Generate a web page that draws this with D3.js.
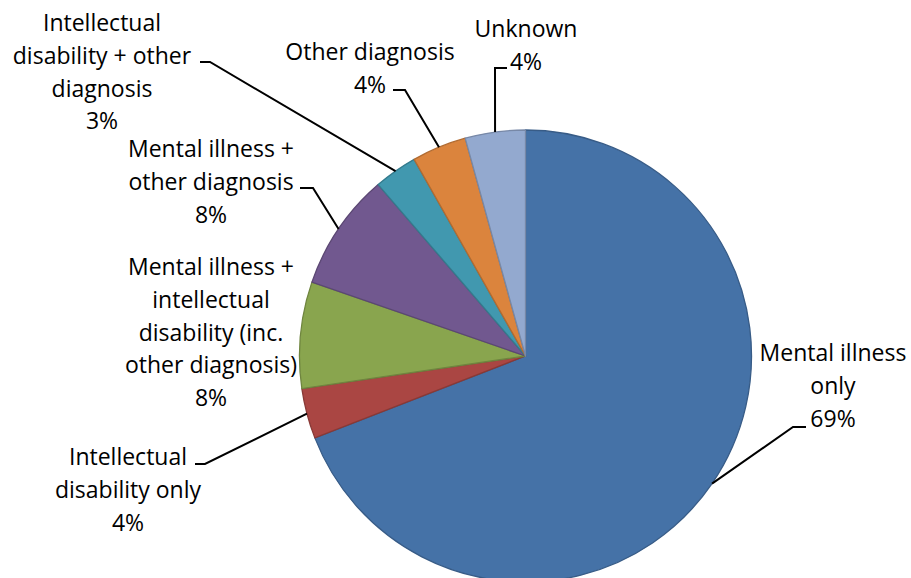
<!DOCTYPE html>
<html>
<head>
<meta charset="utf-8">
<script src="https://cdn.jsdelivr.net/npm/d3@7"></script>
<style>
  html, body { margin: 0; padding: 0; background: #fff; }
  svg text { font-family: "Open Sans", "Noto Sans", sans-serif; font-size: 23px; fill: #000; }
</style>
</head>
<body>
<div id="chart"></div>
<script>
// slices, clockwise from 12 o'clock
const categories = [
    "Mental illness only",
    "Intellectual disability only",
    "Mental illness + intellectual disability (inc. other diagnosis)",
    "Mental illness + other diagnosis",
    "Intellectual disability + other diagnosis",
    "Other diagnosis",
    "Unknown"
];
const shares = [69.1, 3.6, 7.6, 8.4, 3.1, 3.9, 4.3];
const labelLines = [
    ["Mental illness", "only"],
    ["Intellectual", "disability only"],
    ["Mental illness +", "intellectual", "disability (inc.", "other diagnosis)"],
    ["Mental illness +", "other diagnosis"],
    ["Intellectual", "disability + other", "diagnosis"],
    ["Other diagnosis"],
    ["Unknown"]
];
const colors = ["#4572A7", "#AA4643", "#89A54E", "#71588F", "#4198AF", "#DB843D", "#93A9CF"];

const width = 911, height = 578;
const cx = 525.5, cy = 356, radius = 226;
const lineStep = 32.8;

// label layout: text centre x, first line centre y, leader start + elbow (null = no leader)
const labelLayout = [
    { x: 833, y: 353, from: [806, 427], elbow: [793, 427] },
    { x: 128, y: 457, from: [195, 464], elbow: [205, 464] },
    { x: 211, y: 267, from: null },
    { x: 211, y: 149, from: [300, 188], elbow: [313, 188] },
    { x: 102, y: 23, from: [200, 62], elbow: [210, 62] },
    { x: 370, y: 52, from: [393, 90], elbow: [405, 90] },
    { x: 526, y: 29, from: [507, 68], elbow: [495, 68] }
];

const data = categories.map((c, i) => ({
    name: c, value: shares[i], lines: labelLines[i].concat([Math.round(shares[i]) + "%"]),
    color: colors[i], layout: labelLayout[i]
}));

const svg = d3.select('#chart')
    .append('svg')
    .attr('width', width)
    .attr('height', height);

const pie = d3.pie().value(d => d.value).sort(null);
const arc = d3.arc().innerRadius(0).outerRadius(radius);
const arcs = pie(data);

const g = svg.append('g').attr('transform', `translate(${cx}, ${cy})`);

g.selectAll('path.slice')
    .data(arcs)
    .enter()
    .append('path')
    .attr('class', 'slice')
    .attr('d', arc)
    .attr('fill', d => d.data.color)
    .attr('stroke', d => d3.color(d.data.color).darker(0.6))
    .attr('stroke-width', 1.3)
    .attr('stroke-linejoin', 'round');

// leader lines go to the middle of each slice's rim
const leaders = svg.append('g').attr('class', 'leaders');
arcs.forEach(d => {
    const lay = d.data.layout;
    if (!lay.from) return;
    const mid = (d.startAngle + d.endAngle) / 2;
    const px = cx + radius * Math.sin(mid);
    const py = cy - radius * Math.cos(mid);
    leaders.append('path')
        .attr('d', d3.line()([lay.from, lay.elbow, [px, py]]))
        .attr('fill', 'none')
        .attr('stroke', '#000')
        .attr('stroke-width', 2);
});

const labels = svg.append('g').attr('class', 'labels');
data.forEach(d => {
    const t = labels.append('text')
        .attr('text-anchor', 'middle');
    d.lines.forEach((ln, j) => {
        t.append('tspan')
            .attr('x', d.layout.x)
            .attr('y', d.layout.y + j * lineStep)
            .attr('dy', '0.35em')
            .text(ln);
    });
});
</script>
</body>
</html>
